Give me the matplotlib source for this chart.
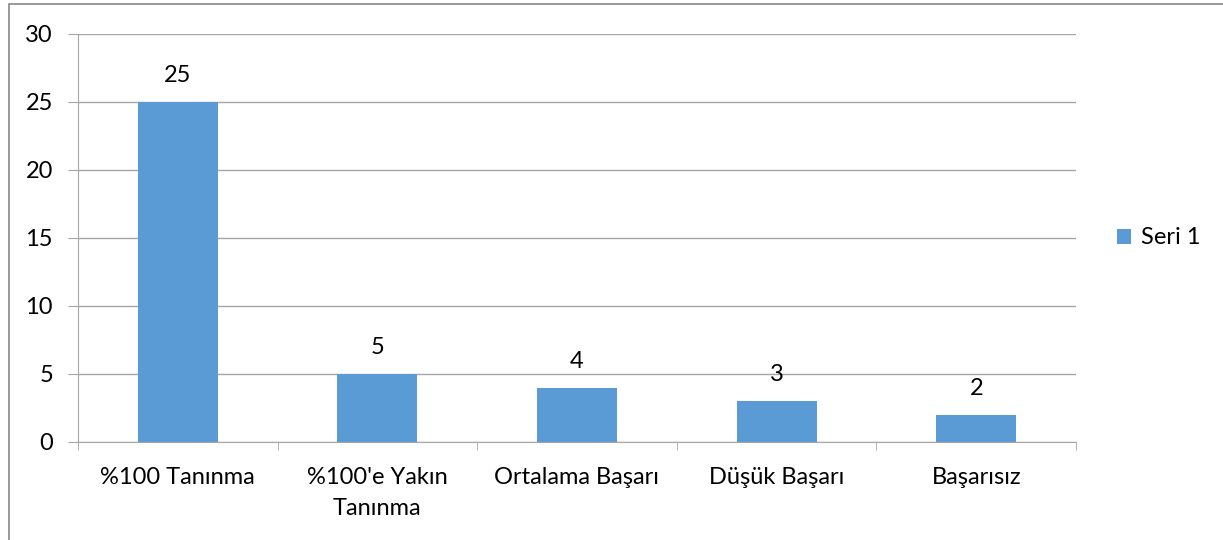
import numpy as np
import matplotlib.pyplot as plt
from matplotlib.patches import Rectangle

categories = ['%100 Tanınma', "%100'e Yakın\nTanınma", 'Ortalama Başarı', 'Düşük Başarı', 'Başarısız']
values = [25, 5, 4, 3, 2]
series_name = 'Seri 1'
yticks = [0, 5, 10, 15, 20, 25, 30]

plt.rcParams['font.family'] = ['Lato', 'DejaVu Sans']
bar_color = '#5B9BD5'
grid_color = '#A6A6A6'
fs = 17

fig = plt.figure(figsize=(12.23, 5.4), dpi=100)
ax = fig.add_axes([78/1223, 1-442/540, (1076-78)/1223, (442-34)/540])

# outer chart frame
fig.patches.append(Rectangle((9/1223, -0.1), 1.2, 1-4/540+0.1, transform=fig.transFigure,
                             fill=False, edgecolor='#898989', linewidth=1.2))

x = np.arange(len(categories))
bars = ax.bar(x, values, width=0.4, color=bar_color, zorder=3, label=series_name)
for xi, v in zip(x, values):
    ax.annotate(str(v), (xi, v), xytext=(0, 19), textcoords='offset points',
                ha='center', va='center', fontsize=fs)

ax.set_xlim(-0.5, len(categories) - 0.5)
ax.set_ylim(0, 30)
ax.set_yticks(yticks)
ax.yaxis.grid(True, color=grid_color, linewidth=1, zorder=0)
ax.set_xticks(x)
ax.set_xticklabels(categories, fontsize=fs, linespacing=1.6)
ax.set_xticks(np.arange(len(categories) + 1) - 0.5, minor=True)
ax.tick_params(axis='x', which='major', length=0, pad=18)
ax.tick_params(axis='x', which='minor', length=6, color=grid_color, direction='out')
ax.tick_params(axis='y', length=7, color=grid_color, labelsize=fs, pad=11)
for s in ['top', 'right']:
    ax.spines[s].set_visible(False)
for s in ['left', 'bottom']:
    ax.spines[s].set_color(grid_color)

ax.legend(loc='center left', bbox_to_anchor=(1.02, 0.5), frameon=False, fontsize=fs,
          handlelength=0.6, handleheight=0.6, handletextpad=0.4)

fig.savefig('out.png', dpi=100)
